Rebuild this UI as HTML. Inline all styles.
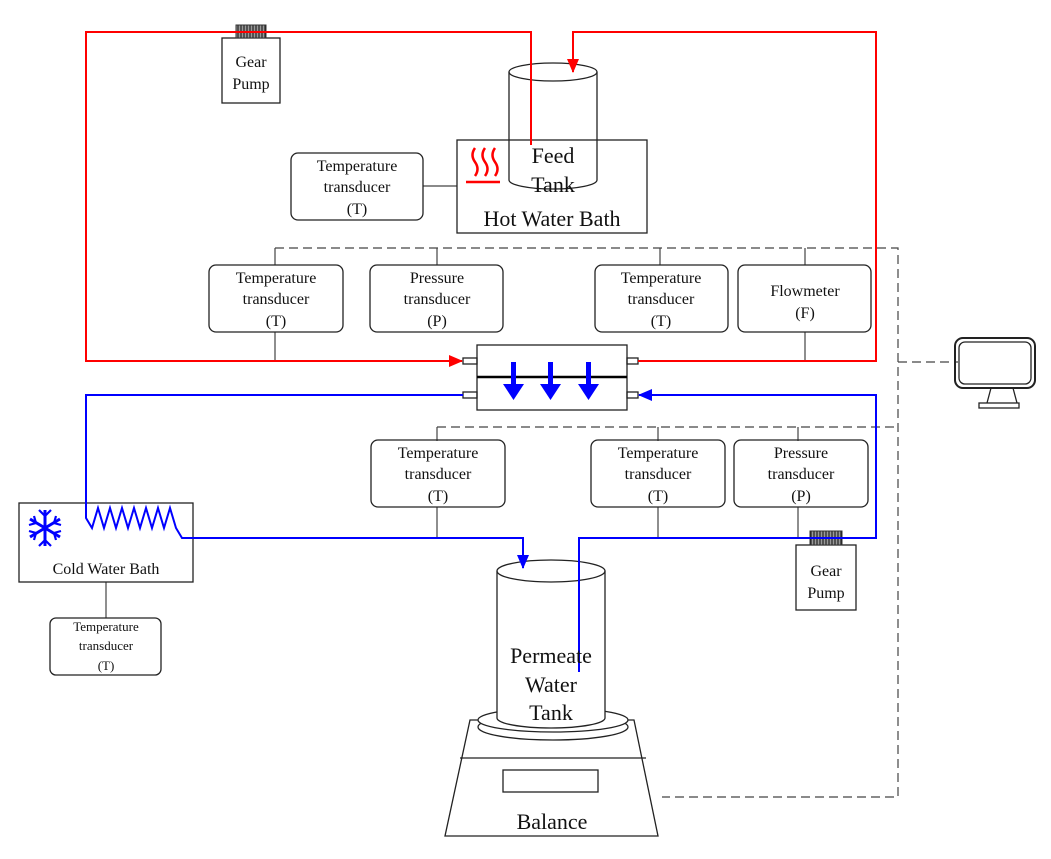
<!DOCTYPE html>
<html><head><meta charset="utf-8"><style>
html,body{margin:0;padding:0;background:#fff;}
svg text{font-family:"Liberation Serif",serif;fill:#111;text-anchor:middle;}
</style></head><body>
<svg width="1051" height="854" viewBox="0 0 1051 854" xmlns="http://www.w3.org/2000/svg">
<defs>
<marker id="ar" markerWidth="14" markerHeight="12" refX="13" refY="6" orient="auto" markerUnits="userSpaceOnUse"><path d="M0,0 L14,6 L0,12Z" fill="#f00"/></marker>
<marker id="ab" markerWidth="14" markerHeight="12" refX="13" refY="6" orient="auto" markerUnits="userSpaceOnUse"><path d="M0,0 L14,6 L0,12Z" fill="#00f"/></marker>
<pattern id="gear" width="3" height="14" patternUnits="userSpaceOnUse"><rect width="3" height="14" fill="#999"/><line x1="1" y1="0" x2="1" y2="14" stroke="#222" stroke-width="1.2"/></pattern>
</defs>
<g fill="none" stroke="#444" stroke-width="1.2">
<path d="M275,248 H898 V797 H662" stroke-dasharray="9,5"/>
<path d="M437,427 H898" stroke-dasharray="9,5"/>
<path d="M898,362 H958" stroke-dasharray="9,5"/>
<path d="M275,248V265 M437,248V265 M660,248V265 M805,248V265"/>
<path d="M275,332V361 M805,332V361"/>
<path d="M437,427V441 M658,427V441 M798,427V441"/>
<path d="M437,507V538 M658,507V538 M798,507V538"/>
<path d="M423,186H457"/>
<path d="M106,582V618"/>
</g>
<g fill="none" stroke="#222" stroke-width="1.3">
<path d="M509,72 V180 A44,9 0 0 0 597,180 V72"/>
<ellipse cx="553" cy="72" rx="44" ry="9"/>
<rect x="457" y="140" width="190" height="93"/>
<rect x="209" y="265" width="134" height="67" rx="7"/>
<rect x="370" y="265" width="133" height="67" rx="7"/>
<rect x="595" y="265" width="133" height="67" rx="7"/>
<rect x="738" y="265" width="133" height="67" rx="7"/>
<rect x="291" y="153" width="132" height="67" rx="7"/>
<rect x="371" y="440" width="134" height="67" rx="7"/>
<rect x="591" y="440" width="134" height="67" rx="7"/>
<rect x="734" y="440" width="134" height="67" rx="7"/>
<rect x="50" y="618" width="111" height="57" rx="6"/>
<rect x="19" y="503" width="174" height="79"/>
<rect x="222" y="38" width="58" height="65"/>
<rect x="796" y="545" width="60" height="65"/>
<rect x="477" y="345" width="150" height="65"/>
<rect x="463" y="358" width="14" height="6"/><rect x="463" y="392" width="14" height="6"/>
<rect x="627" y="358" width="11" height="6"/><rect x="627" y="392" width="11" height="6"/>
</g>
<line x1="477" y1="377" x2="627" y2="377" stroke="#000" stroke-width="2.5"/>
<rect x="236" y="25" width="30" height="13" fill="url(#gear)" stroke="#333"/>
<rect x="810" y="531" width="32" height="14" fill="url(#gear)" stroke="#333"/>
<g fill="none" stroke="#222" stroke-width="1.3">
<path d="M470,720 H634 L658,836 H445 Z"/>
<path d="M460,758 H646"/>
<rect x="503" y="770" width="95" height="22"/>
<ellipse cx="553" cy="727" rx="75" ry="13" fill="#fff"/>
<ellipse cx="553" cy="720" rx="75" ry="12" fill="#fff"/>
<path d="M497,571 V718 A54,10 0 0 0 605,718 V571" fill="#fff"/>
<ellipse cx="551" cy="571" rx="54" ry="11"/>
<rect x="955" y="338" width="80" height="50" rx="8" stroke-width="2"/>
<rect x="959" y="342" width="72" height="42" rx="6"/>
<path d="M991,388 L987,403 M1013,388 L1017,403"/>
<rect x="979" y="403" width="40" height="5"/>
</g>
<g fill="none" stroke="#f00" stroke-width="2">
<path d="M531,145 V32 H86 V361 H462" marker-end="url(#ar)"/>
<path d="M638,361 H876 V32 H573 V72" marker-end="url(#ar)"/>
<path d="M475,148 q-5,7 0,14 q5,7 0,14 M485,148 q-5,7 0,14 q5,7 0,14 M495,148 q-5,7 0,14 q5,7 0,14" stroke-width="2.5"/>
<path d="M466,182 H500" stroke-width="2.5"/>
</g>
<g fill="none" stroke="#00f" stroke-width="2">
<path d="M463,395 H86 V518 L92,528 l6,-20 6,20 6,-20 6,20 6,-20 6,20 6,-20 6,20 6,-20 6,20 6,-20 6,20 6,-20 6,20 L182,538 H523 V568" marker-end="url(#ab)"/>
<path d="M579,672 V538 H876 V395 H639" marker-end="url(#ab)"/>
<g stroke-width="3">
<path d="M45,510 V546 M30,519 L60,537 M30,537 L60,519"/>
<path d="M39,510 L45,516 L51,510 M39,546 L45,540 L51,546 M29,525 L36,523 L34,516 M61,531 L54,533 L56,540 M29,531 L36,533 L34,540 M61,525 L54,523 L56,516" stroke-width="2.2"/>
</g>
</g>
<g fill="#00f">
<rect x="511" y="362" width="5" height="24"/><path d="M503,384 H524 L513.5,400Z"/>
<rect x="548" y="362" width="5" height="24"/><path d="M540,384 H561 L550.5,400Z"/>
<rect x="586" y="362" width="5" height="24"/><path d="M578,384 H599 L588.5,400Z"/>
</g>
<g font-size="16">
<text x="251" y="67">Gear</text><text x="251" y="89">Pump</text>
<text x="826" y="576">Gear</text><text x="826" y="598">Pump</text>
<text x="357" y="171">Temperature</text><text x="357" y="192">transducer</text><text x="357" y="214">(T)</text>
<text x="276" y="283">Temperature</text><text x="276" y="304">transducer</text><text x="276" y="326">(T)</text>
<text x="437" y="283">Pressure</text><text x="437" y="304">transducer</text><text x="437" y="326">(P)</text>
<text x="661" y="283">Temperature</text><text x="661" y="304">transducer</text><text x="661" y="326">(T)</text>
<text x="805" y="296">Flowmeter</text><text x="805" y="318">(F)</text>
<text x="438" y="458">Temperature</text><text x="438" y="479">transducer</text><text x="438" y="501">(T)</text>
<text x="658" y="458">Temperature</text><text x="658" y="479">transducer</text><text x="658" y="501">(T)</text>
<text x="801" y="458">Pressure</text><text x="801" y="479">transducer</text><text x="801" y="501">(P)</text>
<text x="106" y="574">Cold Water Bath</text>
</g>
<g font-size="13">
<text x="106" y="631">Temperature</text><text x="106" y="650">transducer</text><text x="106" y="670">(T)</text>
</g>
<g font-size="22">
<text x="553" y="163">Feed</text><text x="553" y="192">Tank</text>
<text x="552" y="226">Hot Water Bath</text>
<text x="551" y="663">Permeate</text><text x="551" y="692">Water</text><text x="551" y="720">Tank</text>
<text x="552" y="829">Balance</text>
</g>
</svg>
</body></html>
